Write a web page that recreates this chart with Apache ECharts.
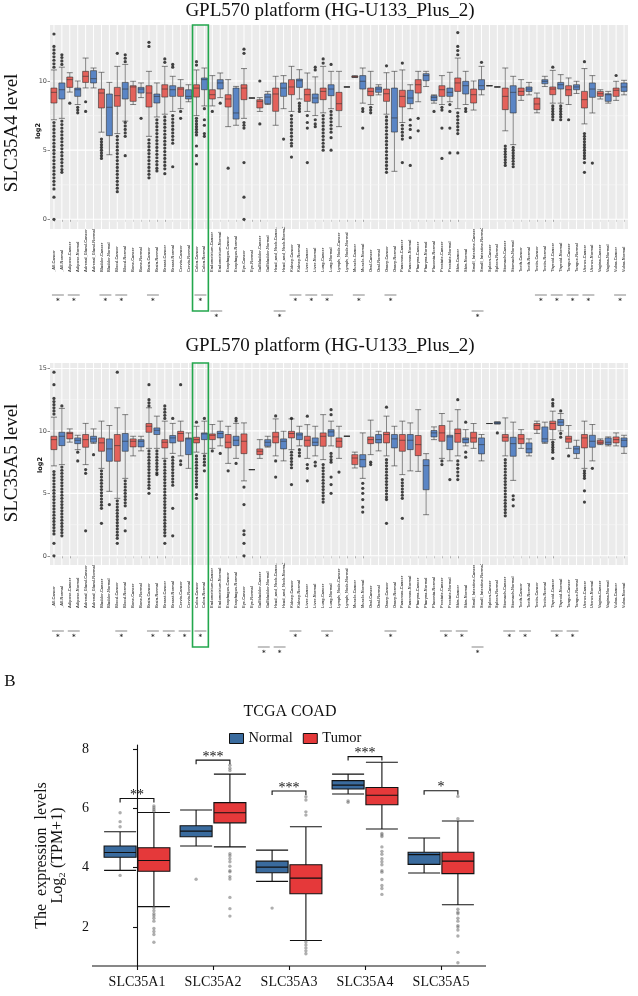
<!DOCTYPE html>
<html><head><meta charset="utf-8">
<script src="https://cdn.jsdelivr.net/npm/echarts@6/dist/echarts.min.js"></script>
<style>html,body{margin:0;padding:0;background:#fff}#c{width:638px;height:996px}</style>
</head><body><div id="c"></div>
<script>
const categories = ['_All-Cancer','_All-Normal','Adipose-Cancer','Adipose-Normal','Adrenal_Gland-Cancer','Adrenal_Gland-Normal','Bladder-Cancer','Bladder-Normal','Blood-Cancer','Blood-Normal','Bone-Cancer','Bone-Normal','Brain-Cancer','Brain-Normal','Breast-Cancer','Breast-Normal','Cervix-Cancer','Cervix-Normal','Colon-Cancer','Colon-Normal','Endometrium-Cancer','Endometrium-Normal','Esophagus-Cancer','Esophagus-Normal','Eye-Cancer','Eye-Normal','Gallbladder-Cancer','Gallbladder-Normal','Head_and_Neck-Cancer','Head_and_Neck-Normal','Kidney-Cancer','Kidney-Normal','Liver-Cancer','Liver-Normal','Lung-Cancer','Lung-Normal','Lymph_Node-Cancer','Lymph_Node-Normal','Muscle-Cancer','Muscle-Normal','Oral-Cancer','Oral-Normal','Ovary-Cancer','Ovary-Normal','Pancreas-Cancer','Pancreas-Normal','Pharynx-Cancer','Pharynx-Normal','Placenta-Normal','Prostate-Cancer','Prostate-Normal','Skin-Cancer','Skin-Normal','Small_Intestine-Cancer','Small_Intestine-Normal','Spleen-Cancer','Spleen-Normal','Stomach-Cancer','Stomach-Normal','Teeth-Cancer','Teeth-Normal','Testis-Cancer','Testis-Normal','Thyroid-Cancer','Thyroid-Normal','Tongue-Cancer','Tongue-Normal','Uterus-Cancer','Uterus-Normal','Vagina-Cancer','Vagina-Normal','Vulva-Cancer','Vulva-Normal'];

// SLC35A4 [min, Q1, median, Q3, max]
const a4Boxes = [
[7.2,8.41,9.18,9.49,10.8],[7.3,8.7,9.37,9.86,11.0],[9.2,9.54,10.1,10.29,10.6],[8.3,8.89,9.37,9.49,10.0],[9.5,9.9,10.34,10.7,11.66],[9.5,9.86,10.17,10.75,10.94],
[6.3,8.05,9.13,9.42,10.63],[4.67,6.05,8.1,9.06,9.9],[6.2,8.17,8.94,9.54,11.06],[7.1,8.7,9.42,9.9,11.2],[8.3,8.53,9.57,9.66,9.98],[8.8,9.13,9.42,9.54,9.86],
[6.0,8.12,9.13,9.66,10.7],[7.4,8.41,8.89,9.06,9.86],[7.6,8.84,9.42,9.73,11.06],[7.8,8.89,9.37,9.66,10.34],[8.0,8.89,9.42,9.54,10.1],[8.5,8.7,8.89,9.37,9.73],
[7.5,8.84,9.49,9.73,10.8],[8.2,9.37,10.1,10.22,10.94],[8.2,8.7,9.01,9.37,10.39],[8.8,9.42,9.86,10.1,10.58],[6.7,8.12,8.7,9.01,10.1],[6.8,7.25,7.69,9.49,9.61],
[7.3,8.65,9.49,9.73,10.9],[8.77,8.77,8.77,8.77,8.77],[7.8,8.05,8.53,8.65,8.8],[8.3,8.36,8.84,9.06,9.25],[6.8,7.81,9.06,9.49,10.34],[8.0,8.89,9.49,9.86,10.39],
[7.8,9.01,9.57,10.1,11.06],[8.7,9.54,10.02,10.14,10.82],[7.8,8.53,9.01,9.42,10.58],[7.5,8.41,8.77,9.06,10.3],[7.7,8.65,9.25,9.49,11.06],[8.0,8.94,9.42,9.73,10.7],
[6.7,7.86,8.36,9.18,10.7],[9.57,9.57,9.57,9.57,9.57],[10.25,10.27,10.3,10.36,10.38],[8.4,9.42,9.98,10.39,10.94],[8.3,8.94,9.25,9.49,10.7],[9.0,9.18,9.42,9.57,9.73],
[7.6,8.53,9.08,9.42,10.6],[3.47,6.31,7.33,9.49,10.7],[7.0,8.12,8.89,9.33,10.8],[8.0,8.36,8.77,9.33,9.73],[8.5,9.13,9.73,10.1,10.7],[9.6,10.02,10.39,10.53,10.7],
[8.4,8.58,8.82,8.94,9.0],[8.3,8.89,9.37,9.66,10.39],[8.5,8.89,9.18,9.49,10.63],[8.0,9.25,9.86,10.22,11.66],[8.3,9.06,9.66,9.98,10.7],[7.9,8.41,9.01,9.42,10.0],
[9.0,9.37,9.66,10.1,11.06],[9.66,9.66,9.66,9.66,9.66],[9.57,9.57,9.57,9.57,9.57],[6.4,7.93,8.89,9.49,10.94],[5.4,7.69,9.18,9.66,10.34],[8.6,8.96,9.25,9.49,10.1],
[9.0,9.25,9.42,9.57,9.9],[7.7,7.93,8.34,8.77,9.13],[9.6,9.8,9.98,10.1,10.34],[8.4,9.01,9.42,9.57,10.77],[8.4,9.42,9.73,9.9,10.46],[8.3,8.94,9.37,9.66,10.22],
[9.1,9.37,9.57,9.73,9.98],[6.9,8.05,8.65,9.25,10.9],[7.69,8.82,9.42,9.86,10.39],[8.7,8.89,9.08,9.25,9.37],[8.4,8.53,9.01,9.08,9.25],[8.6,8.89,9.33,9.49,9.98],
[9.0,9.25,9.57,9.86,10.05]];

const a4Outliers = [
[13.4,12.5,12.25,12,11.75,11.5,11.25,11,7,6.75,6.5,6.25,6,5.75,5.5,5.25,5,4.75,4.5,4.25,4,3.75,3.5,3.25,3,2.75,2.5,2.2,1.6,0],
[11.9,11.7,11.45,11.2,7.1,6.85,6.6,6.35,6.1,5.85,5.6,5.35,5.1,4.85,4.6,4.35,4.1,3.85,3.6,3.4],
[8.4],[8.1,7.9,7.7],[8.5,7.8],[],[5.8,5.6,5.4,5.2,5,4.8,4.6,4.4],[],
[12,6,5.75,5.5,5.25,5,4.75,4.5,4.25,4,3.75,3.5,3.25,3,2.75,2.5,2.25,2],
[11.9,11.65,11.4,7,6.75,6.5,6.25,6,4.6],[],[7.3],
[12.8,12.5,5.75,5.5,5.25,5,4.75,4.5,4.25,4,3.75,3.5,3.25,3],
[7.2,6.95,6.7,6.45,6.2,5.95,5.7,5.45,5.2,4.95,4.7,4.45,4.2,3.95,3.7,3.5],
[11.6,11.35,7.4,7.15,6.9,6.65,6.4,6.15,5.9,5.65,5.4,5.15,4.9,4.65,4.4,4.15,3.9,3.65,3.3],
[11.2,11,7.5,7.25,7,6.75,6.5,6.25,6,5.75,5.5,3.8],
[7.8,7.3],[],[11.4,11.15,7.3,7.1,6.9,6.7,6.5,6.3,6.1,5.3,4.6,4],[8,7.2,6.8,6.2,6],
[7.8],[8.4],[3.7],[],[12.3,12,7,6.8,6.6,4.1,1.6,0],[],[10,6.9],[],[],[5.8],
[7.5,7.25,7,6.75,6.5,6.25,6,5.75,5.5,5.3,4.5],[8.4,8.2,8,7.8],[7.5,7,6.6,4.1],[11,10.8,7.2,6.9,6.7],
[11.6,11.3,7.5,7.25,7,6.75,6.5,6.25,6,5.75,5.5,5.25,5],[11.2,7.8,7.55,7.3,7.05,6.8,6.55,6.3,5.9,5],
[],[],[],[8,7.8,6.6],[8.1,7.9,7.7],[],
[11.1,7.4,7.15,6.9,6.65,6.4,6.15,5.9,5.65,5.4,5.15,4.9,4.65,4.4,4.15,3.9,3.65,3.4],[],
[11.3,6.8,6.55,6.3,6.05,5.8,4.1],[7.2,6.8,6.5,5.9,3.9],[7.3,6.4],[],[7.8],[8.1,7.9,6.6,4.4],[8.3,7.8,6.6,4.8],
[13.5,12.5,12.2,11.9,7.7,7.45,7.2,6.95,6.7,6.45,6.2,4.8],[8,7.8],[],[11.35],[],[],
[5.3,5.1,4.9,4.7,4.5,4.3,4.1,3.9],[5.2,5,4.8,4.6,4.4,4.2,4,3.8],[],[],[],[],
[11,8.2,8,7.8,7.6,7.4,7.2],[8.2,8,7.8,7.6,7.4,7.2],[7.2],[],
[11.4,6.2,6,5.8,5.6,5.4,5.2,5,4.8,4.6,4.4,4.1,3.4],[4.07],[],[],[10.4],[]];

// SLC35A5 [min, Q1, median, Q3, max]
const a5Boxes = [
[7.2,8.5,9.3,9.57,11.1],[7.3,8.82,9.57,9.89,11.8],[9.1,9.36,9.79,9.89,10.16],[8.5,8.98,9.25,9.44,9.65],[7.3,8.69,9.3,9.71,10.6],[9.0,9.09,9.36,9.57,10.16],
[7.0,8.37,9.04,9.44,10.78],[5.16,7.57,8.56,9.36,10.43],[4.6,7.57,8.82,9.71,11.85],[6.2,8.37,9.17,9.79,11.3],[8.0,8.72,9.17,9.36,9.57],[8.4,8.72,9.17,9.3,9.57],
[8.6,9.89,10.37,10.59,11.85],[8.6,9.71,10.05,10.24,11.18],[7.8,8.64,9.09,9.3,10.78],[8.2,9.04,9.44,9.63,10.6],[8.0,9.17,9.79,9.97,10.78],[7.0,8.1,9.36,9.44,9.84],
[8.3,9.04,9.3,9.49,10.37],[8.2,9.3,9.76,9.84,10.78],[8.6,9.3,9.65,9.76,10.51],[8.8,9.44,9.79,9.97,10.78],[7.4,8.64,9.09,9.71,10.37],[7.8,8.82,9.25,9.57,10.6],
[6.0,8.18,9.17,9.76,10.64],[6.9,6.9,6.9,6.9,6.9],[7.8,8.1,8.37,8.56,9.3],[8.7,8.77,9.09,9.3,9.57],[8.0,9.04,9.52,9.89,10.96],[7.6,8.56,9.17,9.36,9.97],
[8.5,9.44,9.79,9.97,10.96],[8.8,9.3,9.68,9.84,10.37],[7.8,8.77,9.25,9.57,10.5],[8.0,8.82,9.09,9.44,10.37],[7.7,8.77,9.57,9.84,11.3],[8.8,9.57,9.92,10.1,10.78],
[7.8,8.69,9.17,9.44,10.37],[9.57,9.57,9.57,9.57,9.57],[7.03,7.3,7.83,8.1,8.3],[6.2,7.11,7.7,8.1,9.84],[8.1,8.98,9.3,9.52,10.86],[8.4,9.04,9.3,9.71,9.97],
[8.0,9.04,9.71,9.89,11.18],[7.2,8.64,9.36,9.71,10.37],[6.5,8.37,9.25,9.71,10.78],[6.8,8.5,9.25,9.71,10.64],[6.76,8.02,8.9,9.63,11.7],[3.29,5.29,7.22,7.7,8.18],
[9.3,9.52,9.84,10.03,10.32],[7.8,9.17,9.84,10.43,11.39],[7.6,8.5,9.52,9.65,10.78],[8.0,9.09,9.79,10.16,11.7],[8.8,9.04,9.3,9.44,10.1],[8.6,9.09,9.44,9.89,10.59],
[7.6,8.16,8.9,9.44,9.71],[10.59,10.59,10.59,10.59,10.59],[10.56,10.56,10.64,10.72,10.72],[8.0,9.17,9.49,9.71,11.04],[6.04,7.97,8.98,9.49,10.7],[8.6,8.98,9.36,9.71,10.1],
[8.0,8.24,8.56,9.04,9.36],[9.8,10.1,10.43,10.59,10.78],[9.0,9.09,9.36,10.32,10.7],[9.3,10.1,10.59,10.78,11.58],[10.0,10.43,10.7,10.91,11.39],[8.6,9.09,9.36,9.57,10.43],
[7.8,8.18,8.56,8.77,9.25],[7.0,8.64,9.44,9.71,10.78],[7.6,8.69,9.17,9.65,10.51],[8.9,8.96,9.09,9.25,9.36],[8.8,8.9,9.09,9.44,9.52],[8.8,9.04,9.3,9.52,9.84],
[8.2,8.72,9.25,9.44,9.65]];

const a5Outliers = [
[14.7,13.7,12.6,12.35,12.1,11.85,11.6,11.35,6.75,6.5,6.25,6,5.75,5.5,5.25,5,4.75,4.5,4.25,4,3.75,3.5,3.25,3,2.75,2.5,2.25,2,1.75,1,0],
[12,7.1,6.85,6.6,6.35,6.1,5.85,5.6,5.35,5.1,4.85,4.6,4.35,4.1,3.85,3.6,3.35,3.1,2.85,2.6,2.35,2.1,1.85,1.6],
[],[8.3,7.6],[6.9,6.6,2],[8.1],
[6.8,6.55,6.3,6.05,5.8,5.55,5.3,5.05,4.8,4.55,4.3,4.05,3.8,2.6],[4.1],
[14.7,4.4,4.15,3.9,3.65,3.4,3.15,2.9,2.65,2.4,2.15,1.9,1.65,1.4,1],
[6,5.75,5.5,5.25,5,4.75,4.5,4.25,4,3,2],[],[],
[13.7,12.5,12.25,12,8.4,8.15,7.9,7.65,7.4,7.15,6.9,6.65,6.4,6.15,5.9,5.65,5.4,5],
[8.4,8.15,7.9,7.65,7.4,7.15,6.9,6.65,6.5],
[12,11.75,11.5,11.25,11,7.6,7.35,7.1,6.85,6.6,6.35,6.1,5.85,5.6,5.35,5.1,4.85,4.6,4.35,4.1,3.85,3.6,3.35,3.1,2.85,2.6,2.35,2.1,1.85,1.6,1],
[11,7.9,7.65,7.4,7.15,6.9,6.65,6.4,6.15,5.9,5.65,3.8,1.6],
[13.7,7.6,7.3],[],[10.7,8,7.75,7.5,7.25,7,6.75,6.5,6.25,6,5.75,5.5,4.9,4.6],[11,8,7.75,7.5,7.25,6.8],
[8.4],[8.2],[6.8],[11,10.8,7.4],[5.5,4.1,2,1.7,1,0],[],[],[],[11.2,7.6,6.3],[],
[11,8.3,8.05,7.8,7.55,7.3,7.05,5.7],[8.5,8.25,8],[11.18,7.3,7,6],[7.5,7.2],
[7.3,7.05,6.8,6.55,6.3,6.05,5.8,5.55,5.3,5.05,4.8,4.55,4.3],[11.7,11.3,8.2,7.95,7.7,7.5,6.3,5.7,5],
[6.7],[],[],[5.8,5.4,5,4.5,3.9,3.5],[7.5,7.3],[],
[11.9,7.7,7.45,7.2,6.95,6.7,6.45,6.2,5.95,5.7,5.45,5.2,4.95,4.7,4.5,2.6],[],
[6.1,5.85,5.6,5.35,5.1,4.85,4.6,3],[],[],[],[],[7.6,7.3],[6.1],
[12.5,7.6,7.3,7,6.7,6.4,6.1],[10.7,8.3,7.9],[],[],[],[9.84],
[7.7,7.45,7.2,6.95,6.7,6.45,6.2,5.95,5.7,5.45,5.2,4.95,4.7,4.45,4.2,3.95,3.7,3.45,3.2],[4.8,4.5,4],[],[],[],[],
[12.5,12.2,12,9.1,8.9,8.7,8.5,8.3,7.8],[11.6,9.8,9.5],[8],[],[6.8,6.6,6.4,6.2,5.2,4.3],[7],[],[],[],[]];

const a4Sig = ['_All','Adipose','Bladder','Blood','Brain','Colon','Endometrium','Head_and_Neck','Kidney','Liver','Lung','Muscle','Ovary','Small_Intestine','Testis','Thyroid','Tongue','Uterus','Vulva'];
const a5Sig = ['_All','Adipose','Blood','Brain','Breast','Cervix','Colon','Gallbladder','Head_and_Neck','Kidney','Lung','Ovary','Prostate','Skin','Small_Intestine','Stomach','Teeth','Thyroid','Tongue'];
const highlight = 'Colon';
const a4Ticks = [0, 5, 10];
const a5Ticks = [0, 5, 10, 15];

// Panel B: TCGA COAD
const genes = ['SLC35A1','SLC35A2','SLC35A3','SLC35A4','SLC35A5'];
const normalBoxes = [[3.91,4.35,4.51,4.73,5.21],[4.73,5.04,5.23,5.41,5.94],[3.54,3.83,4.02,4.22,4.59],[6.48,6.65,6.78,6.93,7.15],[3.82,4.11,4.44,4.52,5.0]];
const tumorBoxes = [[2.69,3.88,4.24,4.67,5.86],[4.7,5.51,5.85,6.19,7.15],[1.55,3.12,3.65,4.1,5.38],[5.3,6.12,6.44,6.7,7.55],[2.75,3.8,4.22,4.52,5.57]];
const normalOutliers = [[5.85,5.55,5.38,3.74],[3.61],[2.64],[6.25,6.2],[]];
const tumorOutliers = [[6.08,6.02,5.96,5.9,2.65,2.55,2.45,2.38,2.3,2.2,1.95,1.85,1.75,1.49],
 [7.45,7.35,7.27,4.47,4.4,4.3,4.2,4.05,3.9,3.86,3.7,3.62,3.0,2.62,2.37],
 [6.39,6.28,5.88,5.77,1.5,1.4,1.3,1.2,1.1],
 [5.15,5.1,5.05,4.7,4.55,4.45,4.3,4.2,4.1,3.9,3.85,3.6,3.4,3.3,3.1],
 [6.4,5.65,2.6,2.5,2.45,2.3,2.2,2.05,2.0,1.9,1.7,1.15,0.8]];
const sigLabels = ['**','***','***','***','*'];
const sigHeights = [6.33,7.62,6.58,7.74,6.59];
const bTicks = [2, 4, 6, 8];

const RED = '#E4625B', BLUE = '#5A85C5';
const NORMAL_B = '#3A6B9E', TUMOR_B = '#E5393A';
const SERIF = '"Liberation Serif", "Times New Roman", serif';

function topPanel(gi, boxes, outliers, ticks, sig, yMin, yMax) {
  const minor = ticks.slice(0, -1).map((t, i) => (t + ticks[i + 1]) / 2);
  const ci = categories.indexOf(highlight + '-Cancer');
  const ni = categories.indexOf(highlight + '-Normal');
  const sigItems = sig.map(t => {
    const c = categories.indexOf(t + '-Cancer'), n = categories.indexOf(t + '-Normal');
    const lng = Math.max((t + '-Cancer').length, (t + '-Normal').length) >= 18 ? 1 : 0;
    return [c, n, 0, lng];
  });
  const xa = {
    gridIndex: gi, type: 'category', data: categories, boundaryGap: true,
    axisLine: { show: false },
    axisTick: { show: true, alignWithLabel: true, length: 2.5, lineStyle: { color: '#444', width: 0.6 } },
    axisLabel: { interval: 0, rotate: 90, align: 'left', verticalAlign: 'middle', margin: 43, fontSize: 3.95,
      fontWeight: 'bold', fontFamily: '"Liberation Sans", Arial, sans-serif', color: '#4A4A4A', hideOverlap: false },
    splitLine: { show: false }
  };
  const ya = {
    gridIndex: gi, type: 'value', min: yMin, max: yMax,
    axisLine: { show: false },
    axisTick: { show: true, length: 2.5, customValues: ticks, lineStyle: { color: '#444', width: 0.6 } },
    axisLabel: { customValues: ticks, fontSize: 6.5, color: '#4D4D4D', margin: 3, fontFamily: '"DejaVu Sans", sans-serif' },
    splitLine: { show: false }
  };
  const series = [
    { type: 'custom', xAxisIndex: gi, yAxisIndex: gi, silent: true, z: 1, clip: false,
      data: categories.map((c, i) => [i, 0]), encode: { x: 0, y: 1 },
      renderItem(p, api) { const cs = p.coordSys; const x = api.coord([api.value(0), 0])[0];
        return { type: 'line', shape: { x1: x, y1: cs.y, x2: x, y2: cs.y + cs.height }, style: { stroke: '#FFFFFF', lineWidth: 1 } }; } },
    { type: 'custom', xAxisIndex: gi, yAxisIndex: gi, silent: true, z: 1, clip: false,
      data: ticks.map(v => [0, v]), encode: { x: 0, y: 1 },
      renderItem(p, api) { const cs = p.coordSys; const y = api.coord([0, api.value(1)])[1];
        return { type: 'line', shape: { x1: cs.x, y1: y, x2: cs.x + cs.width, y2: y }, style: { stroke: '#FFFFFF', lineWidth: 1.1 } }; } },
    { type: 'custom', xAxisIndex: gi, yAxisIndex: gi, silent: true, z: 1, clip: false,
      data: minor.map(v => [0, v]), encode: { x: 0, y: 1 },
      renderItem(p, api) { const cs = p.coordSys; const y = api.coord([0, api.value(1)])[1];
        return { type: 'line', shape: { x1: cs.x, y1: y, x2: cs.x + cs.width, y2: y }, style: { stroke: '#F7F7F7', lineWidth: 0.6 } }; } },
    { type: 'boxplot', xAxisIndex: gi, yAxisIndex: gi, silent: true, z: 2, boxWidth: [6, 6],
      itemStyle: { borderColor: '#333', borderWidth: 0.6 },
      data: boxes.map((b, i) => ({ value: b, itemStyle: { color: categories[i].endsWith('-Cancer') ? RED : BLUE } })) },
    { type: 'scatter', xAxisIndex: gi, yAxisIndex: gi, silent: true, z: 3, symbolSize: 3.2,
      itemStyle: { color: '#141414' },
      data: outliers.flatMap((arr, i) => arr.map(v => [i, v])) },
    { type: 'custom', xAxisIndex: gi, yAxisIndex: gi, silent: true, z: 4, clip: false,
      data: sigItems, encode: { x: [0, 1], y: 2 },
      renderItem(p, api) { const cs = p.coordSys;
        const x1 = api.coord([api.value(0), 0])[0], x2 = api.coord([api.value(1), 0])[0];
        const base = cs.y + cs.height + (api.value(3) ? 82 : 66);
        return { type: 'group', children: [
          { type: 'line', shape: { x1: x1 - 2, y1: base, x2: x2 + 2, y2: base }, style: { stroke: '#555', lineWidth: 0.7 } },
          { type: 'text', x: (x1 + x2) / 2, y: base + 6, style: { text: '*', font: 'bold 7px "DejaVu Sans"', fill: '#333',
            align: 'center', verticalAlign: 'middle', textAlign: 'center', textVerticalAlign: 'middle' } } ] }; } },
    { type: 'custom', xAxisIndex: gi, yAxisIndex: gi, silent: true, z: 5, clip: false,
      data: [[ci, ni, 0]], encode: { x: [0, 1], y: 2 },
      renderItem(p, api) { const cs = p.coordSys; const bw = api.size([1, 0])[0];
        const x1 = api.coord([api.value(0), 0])[0] - bw / 2, x2 = api.coord([api.value(1), 0])[0] + bw / 2;
        return { type: 'rect', shape: { x: x1, y: cs.y, width: x2 - x1, height: cs.height + 82 },
          style: { fill: 'none', stroke: '#23A74D', lineWidth: 1.6 } }; } }
  ];
  return { xa, ya, series };
}

const p1 = topPanel(0, a4Boxes, a4Outliers, a4Ticks, a4Sig, -0.7, 14.05);
const p2 = topPanel(1, a5Boxes, a5Outliers, a5Ticks, a5Sig, -0.735, 15.435);

// Panel B layout
const bLeft = 99, bWidth = 380, bTop = 745, bHeight = 221, yOff = 7;
const band = bWidth / genes.length;
const dodge = 0.2875 * (band * 0.8 - 2) / band;

const bX = { gridIndex: 2, type: 'category', data: genes,
  axisLine: { show: false },
  axisTick: { show: true, alignWithLabel: true, length: 4, lineStyle: { color: '#111', width: 1.1 } },
  axisLabel: { fontFamily: SERIF, fontSize: 14, color: '#111', margin: 9 } };
const bXv = { gridIndex: 2, type: 'value', min: -0.5, max: genes.length - 0.5, show: false };
const bY = { gridIndex: 2, type: 'value', min: 0.69, max: 8.13, offset: yOff,
  axisLine: { show: true, lineStyle: { color: '#111', width: 1.1 } },
  axisTick: { show: true, length: 4, customValues: bTicks, lineStyle: { color: '#111', width: 1.1 } },
  axisLabel: { customValues: bTicks, fontFamily: SERIF, fontSize: 14, color: '#111', margin: 3 },
  splitLine: { show: false },
  name: 'The  expression  levels\nLog\u2082 (TPM+1)', nameLocation: 'middle', nameRotate: 90, nameGap: 26,
  nameTextStyle: { fontFamily: SERIF, fontSize: 16, lineHeight: 16, color: '#111' } };

const bSeries = [
  { name: 'Normal', type: 'boxplot', xAxisIndex: 2, yAxisIndex: 2, silent: true, boxWidth: [32, 32],
    itemStyle: { color: NORMAL_B, borderColor: '#111', borderWidth: 1.1 }, data: normalBoxes },
  { name: 'Tumor', type: 'boxplot', xAxisIndex: 2, yAxisIndex: 2, silent: true, boxWidth: [32, 32],
    itemStyle: { color: TUMOR_B, borderColor: '#111', borderWidth: 1.1 }, data: tumorBoxes },
  { type: 'scatter', xAxisIndex: 3, yAxisIndex: 2, silent: true, symbolSize: 3.4, z: 3,
    itemStyle: { color: 'rgba(100,100,100,0.65)' },
    data: normalOutliers.flatMap((arr, i) => arr.map(v => [i - dodge, v])) },
  { type: 'scatter', xAxisIndex: 3, yAxisIndex: 2, silent: true, symbolSize: 3.4, z: 3,
    itemStyle: { color: 'rgba(100,100,100,0.65)' },
    data: tumorOutliers.flatMap((arr, i) => arr.map(v => [i + dodge, v])) },
  { type: 'custom', xAxisIndex: 3, yAxisIndex: 2, silent: true, z: 4, clip: false,
    data: genes.map((g, i) => [i, sigHeights[i]]), encode: { x: 0, y: 1 },
    renderItem(p, api) {
      const i = api.value(0), h = api.value(1);
      const a = api.coord([i - dodge, h]), b = api.coord([i + dodge, h]);
      return { type: 'group', children: [
        { type: 'polyline', shape: { points: [[a[0], a[1] + 4], [a[0], a[1]], [b[0], b[1]], [b[0], b[1] + 4]] },
          style: { stroke: '#111', lineWidth: 1.1, fill: null } },
        { type: 'text', x: (a[0] + b[0]) / 2, y: a[1] + 4, style: { text: sigLabels[p.dataIndex], font: '14px ' + SERIF, fill: '#111',
          align: 'center', verticalAlign: 'bottom', textAlign: 'center', textVerticalAlign: 'bottom' } } ] };
    } }
];

const titleText = 'GPL570 platform (HG-U133_Plus_2)';
function txt(x, y, text, font, rot, fill) {
  return { type: 'text', x, y, rotation: rot || 0, silent: true,
    style: { text, font, fill: fill || '#111', align: 'center', verticalAlign: 'middle', textAlign: 'center', textVerticalAlign: 'middle' } };
}

const chart = echarts.init(document.getElementById('c'), null, { renderer: 'canvas' });
chart.setOption({
  animation: false,
  backgroundColor: '#FFFFFF',
  grid: [
    { left: 50, right: 10, top: 25, height: 204, show: true, backgroundColor: '#EBEBEB', borderWidth: 0 },
    { left: 50, right: 10, top: 363, height: 202, show: true, backgroundColor: '#EBEBEB', borderWidth: 0 },
    { left: bLeft, width: bWidth, top: bTop, height: bHeight, show: false }
  ],
  xAxis: [p1.xa, p2.xa, bX, bXv],
  yAxis: [p1.ya, p2.ya, bY],
  legend: { left: 224, top: 726, itemWidth: 14, itemHeight: 10, itemGap: 10, icon: 'rect',
    data: [
      { name: 'Normal', itemStyle: { color: NORMAL_B, borderColor: '#111', borderWidth: 1 } },
      { name: 'Tumor', itemStyle: { color: TUMOR_B, borderColor: '#111', borderWidth: 1 } }
    ],
    textStyle: { fontFamily: SERIF, fontSize: 14.5, color: '#111' } },
  graphic: [
    txt(330, 11, titleText, '19px ' + SERIF),
    txt(330, 346, titleText, '19px ' + SERIF),
    txt(12, 133, 'SLC35A4 level', '19px ' + SERIF, Math.PI / 2),
    txt(12, 463, 'SLC35A5 level', '19px ' + SERIF, Math.PI / 2),
    txt(38, 131, 'log2', 'bold 6.5px "DejaVu Sans"', Math.PI / 2),
    txt(40, 465, 'log2', 'bold 6.5px "DejaVu Sans"', Math.PI / 2),
    txt(10, 682, 'B', '17px ' + SERIF),
    txt(290, 712, 'TCGA COAD', '16px ' + SERIF),
    { type: 'line', silent: true, shape: { x1: bLeft - yOff, y1: bTop + bHeight, x2: bLeft + bWidth + yOff, y2: bTop + bHeight },
      style: { stroke: '#111', lineWidth: 1.1 } }
  ],
  series: [...p1.series, ...p2.series, ...bSeries]
});
</script>
</body></html>
